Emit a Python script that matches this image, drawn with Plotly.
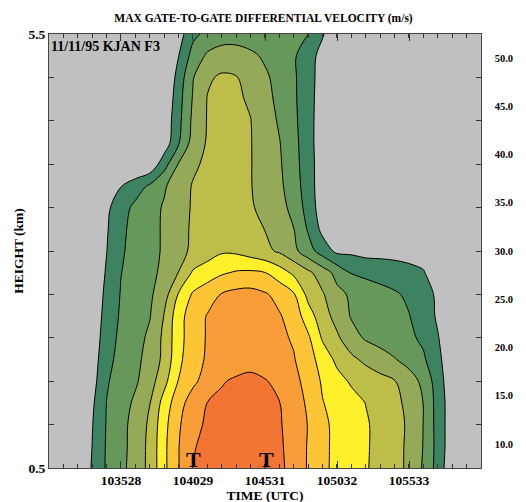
import plotly.graph_objects as go

# ---------------- data ----------------
# scan times, seconds after 10:00:00 UTC
time_s = [1827, 1887, 1947, 2008, 2068, 2128, 2188, 2249, 2309, 2369, 2429,
          2490, 2550, 2610, 2670, 2731, 2791, 2851, 2911, 2971, 3032, 3092,
          3152, 3212, 3273, 3333, 3393, 3453, 3514, 3574, 3634]
height_km = [0.5, 0.75, 1.0, 1.25, 1.5, 1.75, 2.0, 2.25, 2.5, 2.75, 3.0,
             3.25, 3.5, 3.75, 4.0, 4.25, 4.5, 4.75, 5.0, 5.25, 5.5]
# max gate-to-gate differential velocity (m/s), rows = heights (bottom -> top)
dv = [
    [0, 0, 2.4, 8.0, 13.1, 16.2, 19.6, 23.8, 31.4, 37.3, 42.6, 43.7, 45.0, 46.2, 45.6, 44.5, 43.3, 41.1, 37.0, 33.5, 31.3, 29.6, 27.9, 26.0, 24.0, 21.6, 16.9, 10.6, 3.4, 0, 0],
    [0, 0, 1.6, 7.6, 13.0, 16.0, 19.4, 23.8, 31.4, 37.3, 42.2, 43.5, 44.6, 45.7, 45.2, 44.2, 43.1, 40.9, 37.1, 33.6, 31.3, 29.7, 28.0, 26.1, 24.1, 21.6, 17.3, 10.8, 4.2, 0, 0],
    [0, 0, 1.6, 7.3, 12.8, 15.9, 19.3, 23.4, 31.0, 36.8, 41.3, 43.1, 44.0, 44.9, 44.7, 43.8, 42.9, 40.6, 37.3, 33.5, 31.3, 29.6, 28.0, 26.1, 24.1, 21.8, 17.4, 10.6, 4.4, 0, 0],
    [0, 0, 0.9, 6.7, 12.6, 15.3, 18.4, 22.4, 29.5, 35.7, 39.7, 42.6, 43.3, 44.1, 44.2, 43.4, 42.6, 39.9, 36.7, 32.7, 30.8, 29.1, 27.4, 25.5, 23.7, 21.3, 17.4, 10.5, 4.5, 0, 0],
    [0, 0, 0, 5.5, 12.0, 14.6, 16.8, 20.3, 26.0, 32.7, 36.5, 39.5, 42.2, 43.1, 43.5, 42.8, 41.3, 38.9, 35.8, 31.9, 29.1, 26.9, 25.5, 24.1, 22.7, 19.9, 16.2, 10.0, 3.9, 0, 0],
    [0, 0, 0, 4.9, 11.0, 14.1, 16.3, 19.2, 23.8, 31.3, 35.7, 38.1, 39.2, 40.4, 41.1, 40.0, 38.9, 37.8, 34.7, 30.3, 26.4, 23.6, 21.4, 19.6, 17.8, 15.6, 13.2, 8.9, 3.6, 0, 0],
    [0, 0, 0, 4.5, 10.0, 13.7, 15.8, 18.4, 23.7, 30.7, 35.3, 37.9, 39.0, 40.0, 40.6, 39.5, 38.4, 37.0, 33.3, 26.9, 23.3, 19.4, 16.9, 15.7, 14.6, 13.4, 11.6, 7.8, 4.0, 0, 0],
    [0, 0, 0, 4.3, 9.2, 13.2, 15.2, 17.3, 22.8, 30.6, 35.1, 37.8, 38.8, 39.7, 39.9, 38.9, 37.9, 35.4, 29.8, 24.7, 20.7, 17.1, 16.0, 14.9, 13.8, 12.7, 9.9, 6.9, 3.9, 0.9, 0],
    [0, 0, 0, 4.1, 8.6, 12.8, 14.7, 16.7, 20.4, 27.9, 33.1, 35.5, 37.8, 38.9, 39.2, 38.0, 36.0, 33.0, 26.0, 23.0, 18.9, 16.7, 15.5, 14.4, 13.2, 11.5, 9.2, 6.8, 4.4, 2.0, 0],
    [0, 0, 0, 3.6, 8.0, 12.4, 14.3, 16.2, 18.7, 22.6, 28.1, 30.0, 31.9, 33.0, 33.3, 32.6, 29.8, 26.5, 23.5, 20.1, 15.8, 12.2, 11.3, 10.4, 9.5, 8.6, 7.8, 5.0, 2.0, 0, 0],
    [0, 0, 0, 2.9, 7.4, 11.9, 14.1, 16.0, 18.1, 21.0, 23.4, 25.2, 26.9, 26.6, 25.1, 23.6, 21.8, 18.8, 14.6, 10.2, 6.4, 6.5, 5.7, 5.9, 6.0, 6.0, 5.7, 3.0, 1.0, 0, 0],
    [0, 0, 0, 2.6, 7.0, 11.5, 14.0, 16.0, 18.1, 21.0, 23.1, 24.4, 25.6, 25.1, 23.8, 22.4, 20.0, 17.6, 12.0, 6.2, 2.0, 2.0, 2.0, 2.0, 2.0, 2.0, 2.0, 1.0, 0, 0, 0],
    [0, 0, 0, 2.3, 6.4, 10.5, 13.6, 15.7, 18.0, 20.9, 22.9, 23.9, 24.8, 24.1, 23.0, 21.2, 19.1, 16.1, 10.4, 4.9, 2.0, 1.5, 1.5, 1.5, 1.5, 1.5, 1.5, 1.0, 0, 0, 0],
    [0, 0, 0, 1.6, 4.5, 7.3, 10.2, 13.2, 16.9, 20.3, 22.8, 23.8, 24.8, 24.0, 22.7, 20.7, 18.5, 14.9, 9.9, 4.6, 1.5, 1.5, 1.5, 1.5, 1.5, 1.5, 1.5, 1.0, 0, 0, 0],
    [0, 0, 0, 0, 1.0, 1.5, 2.0, 3.5, 10.5, 17.8, 21.7, 23.4, 24.5, 23.9, 22.7, 20.5, 18.1, 14.3, 9.7, 4.7, 1.5, 1.5, 1.5, 1.5, 1.5, 1.5, 1.5, 1.0, 0, 0, 0],
    [0, 0, 0, 0, 0, 0.5, 0.5, 0.5, 4.4, 12.0, 19.5, 23.0, 24.2, 23.7, 22.7, 20.3, 17.7, 14.0, 9.5, 4.5, 1.5, 1.5, 1.5, 1.5, 1.5, 1.5, 1.5, 1.0, 0, 0, 0],
    [0, 0, 0, 0, 0, 0, 0.5, 0.5, 3.9, 11.1, 18.6, 22.8, 23.7, 23.4, 22.6, 19.9, 16.9, 13.6, 9.4, 4.7, 1.5, 1.5, 1.5, 1.5, 1.5, 1.5, 1.5, 1.0, 0, 0, 0],
    [0, 0, 0, 0, 0, 0, 0.5, 0.5, 2.7, 10.6, 17.9, 22.7, 23.4, 23.1, 22.0, 19.1, 16.2, 13.3, 9.4, 5.0, 1.5, 1.5, 1.5, 1.5, 1.5, 1.5, 1.5, 1.0, 0, 0, 0],
    [0, 0, 0, 0, 0, 0, 0.5, 0.5, 1.8, 9.5, 17.2, 21.9, 23.1, 22.7, 20.7, 18.3, 15.8, 13.2, 9.5, 5.3, 1.5, 1.5, 1.5, 1.5, 1.5, 1.5, 1.5, 1.0, 0, 0, 0],
    [0, 0, 0, 0, 0, 0, 0, 0, 0.5, 7.4, 14.3, 18.3, 20.1, 20.2, 18.5, 16.7, 14.9, 13.1, 9.7, 5.7, 1.5, 1.5, 1.5, 1.5, 1.5, 1.5, 1.5, 1.0, 0, 0, 0],
    [0, 0, 0, 0, 0, 0, 0, 0, 0, 5.2, 11.3, 13.8, 14.7, 14.7, 14.7, 14.6, 13.9, 13.2, 12.6, 8.0, 2.9, 1.5, 1.5, 1.5, 1.5, 1.5, 1.5, 1.0, 0, 0, 0],
]
# tornado (T) times at the ground
tornado_s = [2433, 2737]
tornado_label = ["T", "T"]

# x ticks
xtick_vals = [2128, 2429, 2731, 3032, 3333]
xtick_text = ["103528", "104029", "104531", "105032", "105533"]
ytick_vals = [0.5, 1.0, 1.5, 2.0, 2.5, 3.0, 3.5, 4.0, 4.5, 5.0, 5.5]
ytick_text = ["0.5", "", "", "", "", "", "", "", "", "", "5.5"]

# colour legend bands
band_low = [7.5, 12.5, 17.5, 22.5, 27.5, 32.5, 37.5, 42.5, 47.5]
band_size = [5, 5, 5, 5, 5, 5, 5, 5, 5]
cbar_ticks = [10, 15, 20, 25, 30, 35, 40, 45, 50]
cbar_text = ["10.0", "15.0", "20.0", "25.0", "30.0", "35.0", "40.0", "45.0", "50.0"]

# ---------------- style ----------------
grey = "#C0C0C0"
band_colors = ["#3D8361", "#67985B", "#95AA58", "#BDBE4A", "#FEF02B",
               "#FDC535", "#F89D37", "#F37533", "#EE4536"]
all_colors = [grey] + band_colors
n = len(all_colors)
cscale = []
for k, c in enumerate(all_colors):
    lo = max(0.0, (k - 0.5) / (n - 1))
    hi = min(1.0, (k + 0.5) / (n - 1))
    cscale.append([lo, c])
    cscale.append([hi, c])

SERIF = "Liberation Serif"
W, H = 526, 502
# the page body adds an 8px offset; margins compensate for it
ML, MR, MT, MB = 41, 8, 26, 42
pw = W - ML - MR

fig = go.Figure()
fig.add_trace(go.Contour(
    x=time_s, y=height_km, z=dv,
    contours=dict(start=7.5, end=47.5, size=5, coloring="fill"),
    colorscale=cscale, showscale=False,
    line=dict(color="black", width=1, smoothing=1),
    hoverinfo="skip",
))
fig.add_trace(go.Bar(
    x=[0] * len(band_low), y=band_size, base=band_low,
    marker=dict(color=band_colors, line=dict(color="black", width=1)),
    width=1, xaxis="x2", yaxis="y2", showlegend=False, hoverinfo="skip",
))

annots = [dict(text="11/11/95 KJAN F3", xref="x domain", yref="y domain",
               x=0.0, y=1 - 12 / 434, xanchor="left", yanchor="middle",
               showarrow=False,
               font=dict(family=SERIF, size=14, color="black", weight="bold"))]
for t, lab in zip(tornado_s, tornado_label):
    annots.append(dict(text=lab, x=t, y=height_km[0], xref="x", yref="y",
                       xanchor="center", yanchor="bottom", yshift=-6,
                       showarrow=False,
                       font=dict(family=SERIF, size=22, color="black", weight="bold")))

axis_font = dict(family=SERIF, size=13.5, color="black", weight="bold")
fig.update_layout(
    width=W, height=H,
    margin=dict(l=ML, r=MR, t=MT, b=MB, autoexpand=False),
    paper_bgcolor="white", plot_bgcolor=grey,
    barmode="overlay", showlegend=False,
    title=dict(text="MAX GATE-TO-GATE DIFFERENTIAL VELOCITY (m/s)",
               x=255.5 / W, xanchor="center", y=1 - 10 / H, yanchor="middle",
               font=dict(family=SERIF, size=11.5, color="black", weight="bold")),
    xaxis=dict(domain=[0, 432 / pw], range=[1827, 3634], automargin=False,
               tickmode="array", tickvals=xtick_vals, ticktext=xtick_text,
               ticks="inside", ticklen=7, tickcolor="#333",
               minor=dict(ticks="inside", ticklen=4, tick0=2128, dtick=60.23, tickcolor="#333"),
               showline=True, linecolor="#444", linewidth=1, mirror="ticks",
               showgrid=False, zeroline=False,
               tickfont=axis_font,
               title=dict(text="TIME (UTC)", font=axis_font, standoff=2)),
    yaxis=dict(domain=[0, 1], range=[0.5, 5.5], automargin=False,
               tickmode="array", tickvals=ytick_vals, ticktext=ytick_text,
               ticks="inside", ticklen=5, tickcolor="#333",
               showline=True, linecolor="#444", linewidth=1, mirror="ticks",
               showgrid=False, zeroline=False,
               tickfont=axis_font,
               title=dict(text="HEIGHT (km)", font=axis_font, standoff=1)),
    xaxis2=dict(domain=[470 / pw, 1.0], range=[-0.5, 0.5], anchor="y2", automargin=False,
                showticklabels=False, ticks="", showgrid=False, zeroline=False,
                showline=False, fixedrange=True),
    yaxis2=dict(domain=[0, 1], range=[7.5, 52.5], anchor="x2", side="left", automargin=False,
                tickmode="array", tickvals=cbar_ticks, ticktext=cbar_text,
                ticks="", ticklabelstandoff=5, showgrid=False, zeroline=False,
                showline=False,
                tickfont=dict(family=SERIF, size=10.5, color="black", weight="bold")),
    annotations=annots,
)

fig.write_html("out.html")
